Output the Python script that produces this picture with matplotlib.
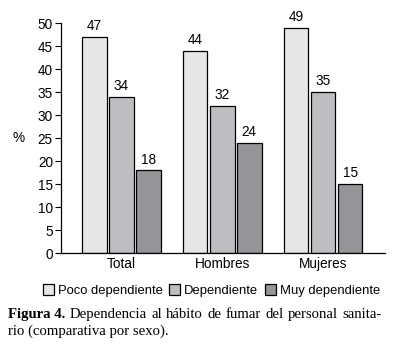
import numpy as np
import matplotlib
matplotlib.use("Agg")
import matplotlib.pyplot as plt

# ── datos ─────────────────────────────────────
categorias = ["Total", "Hombres", "Mujeres"]
series     = ["Poco dependiente", "Dependiente", "Muy dependiente"]
poco       = [47, 44, 49]
dependiente = [34, 32, 35]
muy        = [18, 24, 15]
y_ticks    = [0, 5, 10, 15, 20, 25, 30, 35, 40, 45, 50]

# ── estilo ────────────────────────────────────
COLORES = ["#e6e6e7", "#bdbec1", "#949598"]
plt.rcParams["font.family"] = ["Liberation Sans", "DejaVu Sans"]
FS = 9.8

fig = plt.figure(figsize=(3.95, 3.44), dpi=100, facecolor="white")
ax = fig.add_axes([0.155, 0.2645, 0.82, 0.668])

x = np.arange(len(categorias))
ancho = 0.245
paso = 0.268
for i, (vals, color, nombre) in enumerate(zip([poco, dependiente, muy], COLORES, series)):
    barras = ax.bar(x + (i - 1) * paso, vals, width=ancho, color=color,
                    edgecolor="black", linewidth=0.9, label=nombre)
    for b, v in zip(barras, vals):
        ax.text(b.get_x() + b.get_width() / 2, v + 0.8, str(v),
                ha="center", va="bottom", fontsize=FS)

ax.set_xlim(-0.595, 2.615)
ax.set_ylim(0, 50)
ax.set_yticks(y_ticks)
ax.set_xticks(x)
ax.set_xticklabels(categorias, fontsize=FS)
ax.tick_params(axis="y", labelsize=FS, length=4, width=0.8, pad=2)
ax.tick_params(axis="x", length=0, pad=3)
for s in ["top", "right"]:
    ax.spines[s].set_visible(False)
for s in ["left", "bottom"]:
    ax.spines[s].set_linewidth(0.9)

ax.set_ylabel("%", rotation=0, fontsize=FS, labelpad=14, va="center")

fig.legend(loc="center", bbox_to_anchor=(0.535, 0.155), ncol=3, frameon=False,
           fontsize=9.4, handlelength=0.85, handleheight=0.85, handletextpad=0.3,
           columnspacing=0.5)

# ── pie de figura (primera línea justificada) ─
serif = ["Liberation Serif", "DejaVu Serif"]
CFS = 10.6
renderer = fig.canvas.get_renderer()
x0, x1, y1, y2 = 0.02, 0.967, 0.077, 0.027
t_bold = fig.text(x0, y1, "Figura 4.", family=serif, fontweight="bold",
                  fontsize=CFS, va="baseline")
palabras = "Dependencia al hábito de fumar del personal sanita-".split()
objs = [fig.text(0, y1, p, family=serif, fontsize=CFS, va="baseline") for p in palabras]
fw = fig.bbox.width
ancho_b = t_bold.get_window_extent(renderer).width / fw
anchos = [o.get_window_extent(renderer).width / fw for o in objs]
hueco = (x1 - x0 - ancho_b - sum(anchos)) / len(objs)
pos = x0 + ancho_b + hueco
for o, w in zip(objs, anchos):
    o.set_x(pos)
    pos += w + hueco
fig.text(x0, y2, "rio (comparativa por sexo).", family=serif, fontsize=CFS,
         va="baseline")

fig.savefig("out.png", dpi=100)
